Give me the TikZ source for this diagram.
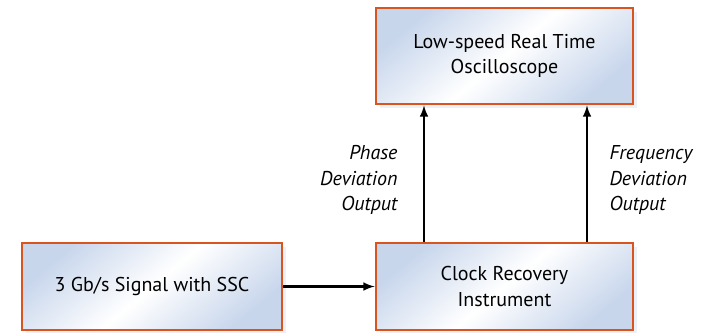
\documentclass[tikz,border=0pt]{standalone}
\usepackage{fontspec}
\setmainfont{PT Sans}
\usetikzlibrary{positioning,shadows,arrows}
\definecolor{boxline}{HTML}{D9541E}
\definecolor{boxshade}{HTML}{C8D6EC}

\begin{document}
\begin{tikzpicture}[x=1pt,y=-1pt,node distance=230.5pt,on grid,
  font=\fontsize{20}{25.5}\selectfont]
\tikzset{>=latex}
\tikzset{block/.style={draw=boxline,line width=2.8pt,align=center,
    minimum width=257pt,minimum height=87pt,
    top color=boxshade,bottom color=boxshade,middle color=white,shading angle=40,
    drop shadow={shadow xshift=4pt,shadow yshift=-4pt,fill=boxshade,opacity=.35}},
  label/.style={font=\fontsize{20}{25.5}\selectfont\itshape}}
  \useasboundingbox (0,0) rectangle (714,332);
  \node[block] (cri) at (504.5,286.5) {Clock Recovery\\Instrument};
  \node[block,minimum height=96pt] (osc) [above=of cri] {Low-speed Real Time\\Oscilloscope};
  \node[block,minimum width=260pt] (sig) [left=352.5pt of cri] {3 Gb/s Signal with SSC};
  \path[->,line width=2.8pt] (sig) edge (cri);
  \path[->,line width=2.8pt] ([xshift=-80.5pt]cri.north) edge ([xshift=-80.5pt]osc.south);
  \path[->,line width=2.8pt] ([xshift=82.5pt]cri.north) edge ([xshift=82.5pt]osc.south);
  \node[label,align=right,anchor=east] (phs) at (401,180) {Phase\\Deviation\\Output};
  \node[label,align=left,anchor=west] (frq) at (606,180) {Frequency\\Deviation\\Output};
\end{tikzpicture}
\end{document}
